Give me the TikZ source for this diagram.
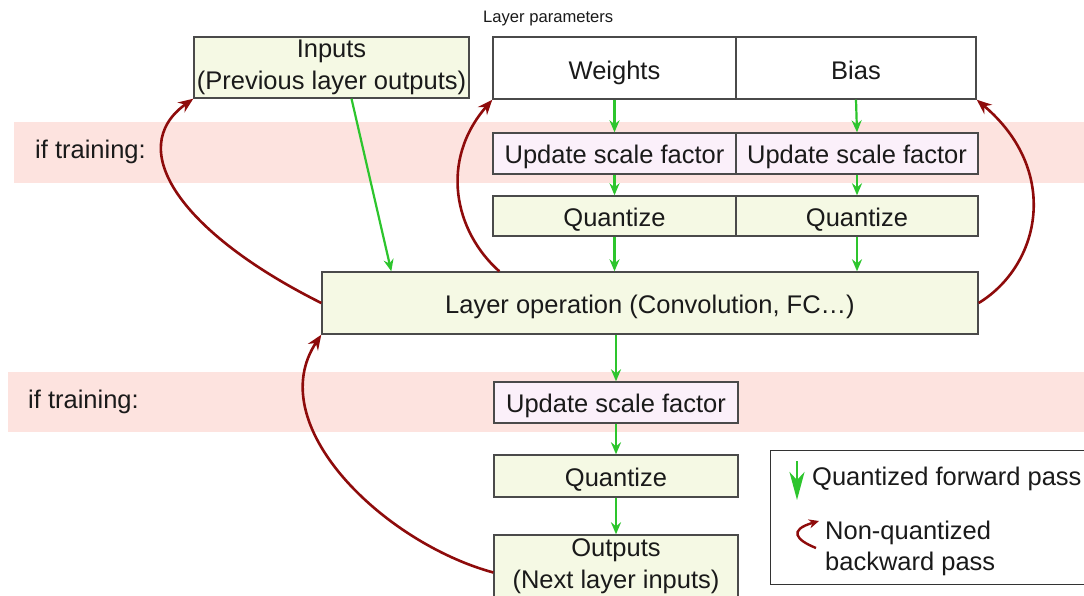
\documentclass[tikz,border=0pt]{standalone}
\usepackage{fontspec}
\setmainfont{Liberation Sans}
\usetikzlibrary{arrows.meta}
\definecolor{bandpink}{HTML}{FDE3DF}
\definecolor{boxyellow}{HTML}{F5F9E4}
\definecolor{boxlilac}{HTML}{FBF0FA}
\definecolor{edgegray}{HTML}{4A4A4A}
\definecolor{fwdgreen}{HTML}{2DC52D}
\definecolor{bwdred}{HTML}{8E0B0B}
\definecolor{inkgray}{HTML}{1A1A1A}
\begin{document}
\begin{tikzpicture}[x=1pt,y=-1pt,
  every node/.style={font=\fontsize{25.5}{31}\selectfont, text=inkgray},
  box/.style={draw=edgegray, line width=1.4pt, inner sep=0pt, align=center},
  oneline/.style={text height=20pt, text depth=0pt},
  databox/.style={box, fill=boxyellow},
  scalebox/.style={box, fill=boxlilac, oneline},
  parambox/.style={box, fill=white, text height=24pt, text depth=0pt},
  fwd/.style={draw=fwdgreen, line width=2.2pt, -{Stealth[length=12pt,width=10pt,inset=4pt]}},
  bwd/.style={draw=bwdred, line width=2.6pt, -{Stealth[length=15pt,width=12pt,inset=5pt]}},
  band/.style={fill=bandpink, draw=none},
  lbl/.style={anchor=west, inner sep=0pt}
]
\useasboundingbox (0,0) rectangle (1084,596);
\fill[white] (0,0) rectangle (1084,596);

% shaded "training only" bands
\path[band] (14,122) rectangle (1090,183);
\path[band] (8,372) rectangle (1090,432);
\node[lbl] (train1) at (35,152) {if training:};
\node[lbl] (train2) at (28,402) {if training:};

% inputs and layer parameters
\node[databox, minimum width=275pt, minimum height=61pt] (inputs) at (331.5,67.5) {Inputs\\[1pt](Previous layer outputs)};
\node[lbl, font=\fontsize{16.6}{18}\selectfont] (lp) at (483,19) {Layer parameters};
\node[parambox, minimum width=243pt, minimum height=62pt] (weights) at (614.5,68) {Weights};
\node[parambox, minimum width=240pt, minimum height=62pt] (bias) at (856,68) {Bias};
\node[scalebox, minimum width=243pt, minimum height=41pt] (upd1) at (614.5,153.5) {Update scale factor};
\node[scalebox, minimum width=242pt, minimum height=41pt] (upd2) at (857,153.5) {Update scale factor};
\node[databox, oneline, minimum width=243pt, minimum height=40pt] (q1) at (614.5,216) {Quantize};
\node[databox, oneline, minimum width=242pt, minimum height=40pt] (q2) at (857,216) {Quantize};

% layer operation and output path
\node[databox, oneline, minimum width=656pt, minimum height=62pt] (layer) at (650,303) {Layer operation (Convolution, FC…)};
\node[scalebox, minimum width=244pt, minimum height=41pt] (upd3) at (616,402.5) {Update scale factor};
\node[databox, oneline, minimum width=244pt, minimum height=42pt] (q3) at (616,476) {Quantize};
\node[databox, minimum width=244pt, minimum height=63pt] (outputs) at (616,566.5) {Outputs\\[1pt](Next layer inputs)};

% quantized forward pass
\draw[fwd] ([xshift=20pt]inputs.south) -- ([xshift=70pt]layer.north west);
\draw[fwd] (weights.south) -- (upd1.north);
\draw[fwd] (upd1.south) -- (q1.north);
\draw[fwd] (q1.south) -- (layer.north -| q1.south);
\draw[fwd] (bias.south) -- (upd2.north);
\draw[fwd] (upd2.south) -- (q2.north);
\draw[fwd] (q2.south) -- (layer.north -| q2.south);
\draw[fwd] (layer.south -| upd3.north) -- (upd3.north);
\draw[fwd] (upd3.south) -- (q3.north);
\draw[fwd] (q3.south) -- (outputs.north);

% non-quantized backward pass
\draw[bwd] (layer.west) .. controls +(-140,-70) and +(-70,50) .. (inputs.south west);
\draw[bwd] ([xshift=178pt]layer.north west) .. controls +(-45,-40) and +(-53,61) .. (weights.south west);
\draw[bwd] (layer.east) .. controls +(62,-38) and +(84,71) .. (bias.south east);
\draw[bwd] ([yshift=-6pt]outputs.west) .. controls +(-110,-30) and +(-60,90) .. (layer.south west);

% legend
\node[draw=black!80, line width=1.2pt, minimum width=330pt, minimum height=134pt, inner sep=0pt, anchor=north west] (legend) at (770,450) {};
\coordinate (gtop) at (797,461);
\coordinate (gbot) at (797,500);
\draw[draw=fwdgreen, line width=2.2pt, -{Stealth[length=28pt,width=15pt,inset=8pt]}] (gtop) -- (gbot);
\node[lbl] (fwdtxt) at (812,479) {Quantized forward pass};
\coordinate (rstart) at (816,548);
\coordinate (rend) at (819,521);
\draw[draw=bwdred, line width=2.4pt, -{Stealth[length=10pt,width=9pt,inset=3pt]}] (rstart) .. controls (796,540) and (788,530) .. (rend);
\node[lbl, align=left] (bwdtxt) at (825,548) {Non-quantized\\backward pass};
\end{tikzpicture}
\end{document}
